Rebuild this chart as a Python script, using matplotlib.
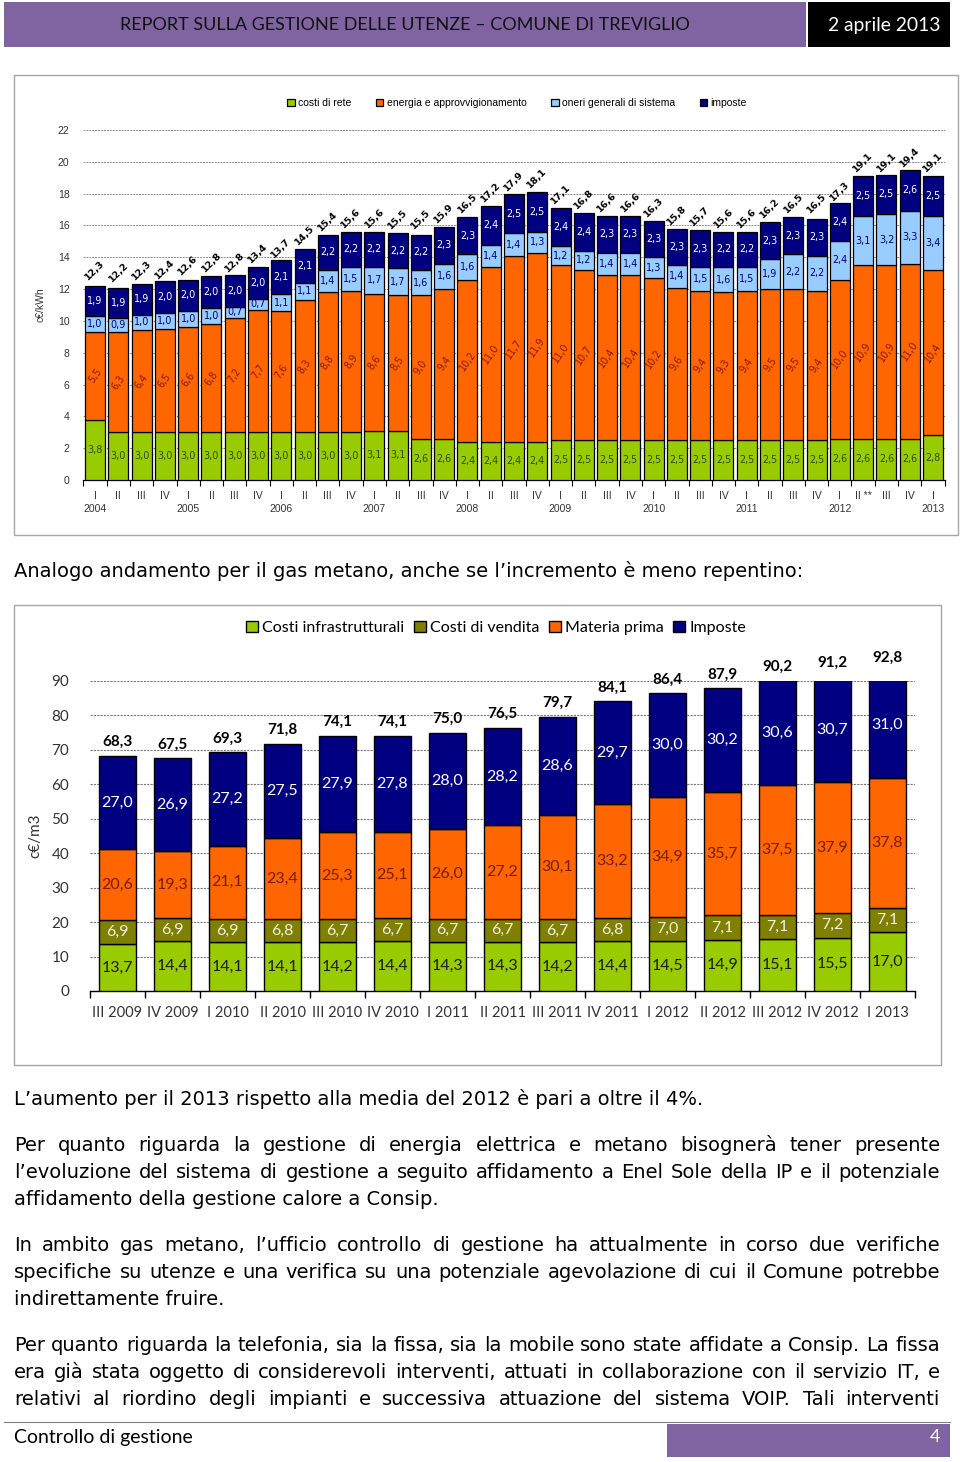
import numpy as np
import matplotlib
matplotlib.use("Agg")
import matplotlib.pyplot as plt
from matplotlib.patches import Rectangle

W, H = 960, 1462

# --- energia elettrica, c€/kWh, 2004 I .. 2013 I ---
el_quarters = ["I", "II", "III", "IV", "I", "II", "III", "IV", "I", "II", "III", "IV",
               "I", "II", "III", "IV", "I", "II", "III", "IV", "I", "II", "III", "IV",
               "I", "II", "III", "IV", "I", "II", "III", "IV", "I", "II **", "III", "IV", "I"]
el_years = ["2004", "2005", "2006", "2007", "2008", "2009", "2010", "2011", "2012", "2013"]
el_rete = [3.8, 3.0, 3.0, 3.0, 3.0, 3.0, 3.0, 3.0, 3.0, 3.0, 3.0, 3.0, 3.1, 3.1, 2.6, 2.6,
           2.4, 2.4, 2.4, 2.4, 2.5, 2.5, 2.5, 2.5, 2.5, 2.5, 2.5, 2.5, 2.5, 2.5, 2.5, 2.5,
           2.6, 2.6, 2.6, 2.6, 2.8]
el_energia = [5.5, 6.3, 6.4, 6.5, 6.6, 6.8, 7.2, 7.7, 7.6, 8.3, 8.8, 8.9, 8.6, 8.5, 9.0, 9.4,
              10.2, 11.0, 11.7, 11.9, 11.0, 10.7, 10.4, 10.4, 10.2, 9.6, 9.4, 9.3, 9.4, 9.5,
              9.5, 9.4, 10.0, 10.9, 10.9, 11.0, 10.4]
el_oneri = [1.0, 0.9, 1.0, 1.0, 1.0, 1.0, 0.7, 0.7, 1.1, 1.1, 1.4, 1.5, 1.7, 1.7, 1.6, 1.6,
            1.6, 1.4, 1.4, 1.3, 1.2, 1.2, 1.4, 1.4, 1.3, 1.4, 1.5, 1.6, 1.5, 1.9, 2.2, 2.2,
            2.4, 3.1, 3.2, 3.3, 3.4]
el_imposte = [1.9, 1.9, 1.9, 2.0, 2.0, 2.0, 2.0, 2.0, 2.1, 2.1, 2.2, 2.2, 2.2, 2.2, 2.2, 2.3,
              2.3, 2.4, 2.5, 2.5, 2.4, 2.4, 2.3, 2.3, 2.3, 2.3, 2.3, 2.2, 2.2, 2.3, 2.3, 2.3,
              2.4, 2.5, 2.5, 2.6, 2.5]
el_totale = [12.3, 12.2, 12.3, 12.4, 12.6, 12.8, 12.8, 13.4, 13.7, 14.5, 15.4, 15.6, 15.6,
             15.5, 15.5, 15.9, 16.5, 17.2, 17.9, 18.1, 17.1, 16.8, 16.6, 16.6, 16.3, 15.8,
             15.7, 15.6, 15.6, 16.2, 16.5, 16.5, 17.3, 19.1, 19.1, 19.4, 19.1]

# --- gas metano, c€/m3 ---
gas_labels = ["III 2009", "IV 2009", "I 2010", "II 2010", "III 2010", "IV 2010", "I 2011",
              "II 2011", "III 2011", "IV 2011", "I 2012", "II 2012", "III 2012", "IV 2012", "I 2013"]
gas_infra = [13.7, 14.4, 14.1, 14.1, 14.2, 14.4, 14.3, 14.3, 14.2, 14.4, 14.5, 14.9, 15.1, 15.5, 17.0]
gas_vendita = [6.9, 6.9, 6.9, 6.8, 6.7, 6.7, 6.7, 6.7, 6.7, 6.8, 7.0, 7.1, 7.1, 7.2, 7.1]
gas_materia = [20.6, 19.3, 21.1, 23.4, 25.3, 25.1, 26.0, 27.2, 30.1, 33.2, 34.9, 35.7, 37.5, 37.9, 37.8]
gas_imposte = [27.0, 26.9, 27.2, 27.5, 27.9, 27.8, 28.0, 28.2, 28.6, 29.7, 30.0, 30.2, 30.6, 30.7, 31.0]
gas_totale = [68.3, 67.5, 69.3, 71.8, 74.1, 74.1, 75.0, 76.5, 79.7, 84.1, 86.4, 87.9, 90.2, 91.2, 92.8]

PURPLE = "#8064A2"
NARROW = ["Liberation Sans Narrow", "Liberation Sans", "DejaVu Sans"]
CAL = ["Lato", "DejaVu Sans"]

plt.rcParams["font.family"] = ["DejaVu Sans"]

fig = plt.figure(figsize=(W / 100, H / 100), dpi=100)
renderer = fig.canvas.get_renderer()


def fy(y):
    return 1 - y / H


def fmt(v):
    return f"{v:.1f}".replace(".", ",")


def box(x0, y0, x1, y1, **kw):
    fig.add_artist(Rectangle((x0 / W, fy(y1)), (x1 - x0) / W, (y1 - y0) / H,
                             transform=fig.transFigure, **kw))


def fit_size(s, width, family, weight="normal"):
    t = fig.text(0, 0, s, fontsize=12, family=family, weight=weight)
    w = t.get_window_extent(renderer).width
    t.remove()
    return 12 * width / w


# header / footer
box(4, 2, 806, 47, facecolor=PURPLE, edgecolor="none")
box(808, 2, 950, 47, facecolor="black", edgecolor="none")
title = "REPORT SULLA GESTIONE DELLE UTENZE – COMUNE DI TREVIGLIO"
fig.text(405 / W, fy(25), title, ha="center", va="center", color="#111111",
         family=CAL, fontsize=fit_size(title, 567, CAL))
fig.text(884 / W, fy(25), "2 aprile 2013", ha="center", va="center", color="white",
         family=CAL, fontsize=fit_size("2 aprile 2013", 112, CAL))
fig.add_artist(plt.Line2D([4 / W, 950 / W], [fy(1422), fy(1422)], color="#7f7f7f",
                          linewidth=0.8, transform=fig.transFigure))
box(667, 1424, 950, 1457, facecolor=PURPLE, edgecolor="none")
fig.text(14 / W, fy(1437), "Controllo di gestione", ha="left", va="center", color="black",
         family=CAL, fontsize=fit_size("Controllo di gestione", 178, CAL))
fig.text(940 / W, fy(1437), "4", ha="right", va="center", color="white", family=CAL, fontsize=13)

# frames
box(14, 75, 958, 535, facecolor="none", edgecolor="#a6a6a6", linewidth=1)
box(14, 605, 941, 1065, facecolor="none", edgecolor="#a6a6a6", linewidth=1)

# ---------------- electricity chart ----------------
ax1 = fig.add_axes([83.4 / W, fy(480), 861.2 / W, 350 / H])
x = np.arange(len(el_totale))
bottom = np.zeros(len(x))
series = [
    (el_rete, "#99CC00", "costi di rete", "#2d4d00", 0),
    (el_energia, "#FF6600", "energia e approvvigionamento", "#8b1a00", 55),
    (el_oneri, "#99CCFF", "oneri generali di sistema", "#000080", 0),
    (el_imposte, "#000080", "imposte", "white", 0),
]
for vals, col, lab, tcol, rot in series:
    vals = np.array(vals)
    ax1.bar(x, vals, 0.86, bottom=bottom, color=col, edgecolor="black", linewidth=0.9,
            label=lab, zorder=3)
    for xi, b, v in zip(x, bottom, vals):
        ax1.text(xi, b + v / 2, fmt(v), ha="center", va="center", rotation=rot,
                 fontsize=6.9, color=tcol, zorder=4)
    bottom += vals
for xi, t in zip(x, el_totale):
    ax1.text(xi, t + 0.15, fmt(t), ha="center", va="bottom", rotation=45,
             fontsize=6.8, fontweight="bold", color="black")

ax1.set_xlim(-0.5, len(x) - 0.5)
ax1.set_ylim(0, 22)
ax1.set_yticks(np.arange(0, 23, 2))
ax1.yaxis.grid(True, linestyle=(0, (2, 1)), color="#8a8a8a", linewidth=0.7)
ax1.set_axisbelow(True)
for s in ["left", "right", "top"]:
    ax1.spines[s].set_visible(False)
ax1.spines["bottom"].set_linewidth(0.9)
ax1.set_xticks(x)
ax1.set_xticklabels(el_quarters, family=NARROW, fontsize=7.5, color="#333333")
ax1.set_xticks(np.arange(-0.5, len(x), 1), minor=True)
ax1.tick_params(axis="x", which="major", length=0, pad=8)
ax1.tick_params(axis="x", which="minor", length=4, width=0.8, direction="out")
ax1.tick_params(axis="y", length=0, pad=10, labelsize=7.5, labelcolor="#333333")
for lbl in ax1.get_yticklabels():
    lbl.set_family(NARROW)
for i, yr in enumerate(el_years):
    ax1.text(i * 4, -29 / 350, yr, transform=ax1.get_xaxis_transform(), ha="center",
             va="center", family=NARROW, fontsize=7.5, color="#333333")
ax1.set_ylabel("c€/kWh", family=NARROW, fontsize=7.5, color="#333333")
ax1.yaxis.set_label_coords((45 - 83.4) / 861.2, 0.5)
ax1.legend(loc="center", bbox_to_anchor=(517 / W, fy(103)), bbox_transform=fig.transFigure,
           ncol=4, frameon=False, prop={"family": NARROW, "size": 7.5}, handlelength=0.7,
           handleheight=0.7, handletextpad=0.3, columnspacing=2.4)

# ---------------- gas chart ----------------
ax2 = fig.add_axes([90 / W, fy(991), 825 / W, 310 / H])
xg = np.arange(len(gas_totale))
bottom = np.zeros(len(xg))
gseries = [
    (gas_infra, "#99CC00", "Costi infrastrutturali", "#1a1a1a"),
    (gas_vendita, "#808000", "Costi di vendita", "#f0f0e0"),
    (gas_materia, "#FF6600", "Materia prima", "#7a1c00"),
    (gas_imposte, "#000080", "Imposte", "white"),
]
for vals, col, lab, tcol in gseries:
    vals = np.array(vals)
    ax2.bar(xg, vals, 0.67, bottom=bottom, color=col, edgecolor="black", linewidth=1.0,
            label=lab, zorder=3)
    for xi, b, v in zip(xg, bottom, vals):
        ax2.text(xi, b + v / 2, fmt(v), ha="center", va="center", family=CAL,
                 fontsize=11.5, color=tcol, zorder=4)
    bottom += vals
for xi, t in zip(xg, gas_totale):
    ax2.text(xi, t + 2.0, fmt(t), ha="center", va="bottom", family=CAL,
             fontsize=11, fontweight="bold", color="black")

ax2.set_xlim(-0.5, len(xg) - 0.5)
ax2.set_ylim(0, 90)
ax2.set_yticks(np.arange(0, 91, 10))
ax2.yaxis.grid(True, linestyle=(0, (2, 1)), color="#7a7a7a", linewidth=0.8)
ax2.set_axisbelow(True)
for s in ["left", "right", "top"]:
    ax2.spines[s].set_visible(False)
ax2.spines["bottom"].set_linewidth(1.0)
ax2.set_xticks(xg)
ax2.set_xticklabels(gas_labels, family=CAL, fontsize=10.5, color="#333333")
ax2.set_xticks(np.arange(-0.5, len(xg), 1), minor=True)
ax2.tick_params(axis="x", which="major", length=0, pad=11)
ax2.tick_params(axis="x", which="minor", length=5, width=1.0, direction="out")
ax2.tick_params(axis="y", length=0, pad=15, labelsize=11, labelcolor="#333333")
for lbl in ax2.get_yticklabels():
    lbl.set_family(CAL)
ax2.set_ylabel("c€/m3", family=CAL, fontsize=11, color="#333333")
ax2.yaxis.set_label_coords((42 - 90) / 825, 0.5)
ax2.legend(loc="center", bbox_to_anchor=(496 / W, fy(628)), bbox_transform=fig.transFigure,
           ncol=4, frameon=False, prop={"family": CAL, "size": 11.5}, handlelength=0.75,
           handleheight=0.75, handletextpad=0.25, columnspacing=0.6)

# ---------------- body text ----------------
body_size = fit_size("L’aumento per il 2013 rispetto alla media del 2012 è pari a oltre il 4%.",
                     684, ["DejaVu Sans"])


def put_line(y, s, justify=False):
    yb = fy(y + 5)
    if not justify:
        fig.text(14 / W, yb, s, fontsize=body_size, va="baseline", color="black")
        return
    words = s.split()
    widths = []
    for w in words:
        t = fig.text(0, 0, w, fontsize=body_size)
        widths.append(t.get_window_extent(renderer).width)
        t.remove()
    gap = (926 - sum(widths)) / (len(words) - 1)
    xp = 14
    for w, wd in zip(words, widths):
        fig.text(xp / W, yb, w, fontsize=body_size, va="baseline", color="black")
        xp += wd + gap


put_line(572, "Analogo andamento per il gas metano, anche se l’incremento è meno repentino:")
put_line(1100, "L’aumento per il 2013 rispetto alla media del 2012 è pari a oltre il 4%.")
put_line(1146, "Per quanto riguarda la gestione di energia elettrica e metano bisognerà tener presente", True)
put_line(1173, "l’evoluzione del sistema di gestione a seguito affidamento a Enel Sole della IP e il potenziale", True)
put_line(1200, "affidamento della gestione calore a Consip.")
put_line(1246, "In ambito gas metano, l’ufficio controllo di gestione ha attualmente in corso due verifiche", True)
put_line(1273, "specifiche su utenze e una verifica su una potenziale agevolazione di cui il Comune potrebbe", True)
put_line(1300, "indirettamente fruire.")
put_line(1346, "Per quanto riguarda la telefonia, sia la fissa, sia la mobile sono state affidate a Consip. La fissa", True)
put_line(1373, "era già stata oggetto di considerevoli interventi, attuati in collaborazione con il servizio IT, e", True)
put_line(1400, "relativi al riordino degli impianti e successiva attuazione del sistema VOIP. Tali interventi", True)

fig.savefig("out.png", dpi=100)
